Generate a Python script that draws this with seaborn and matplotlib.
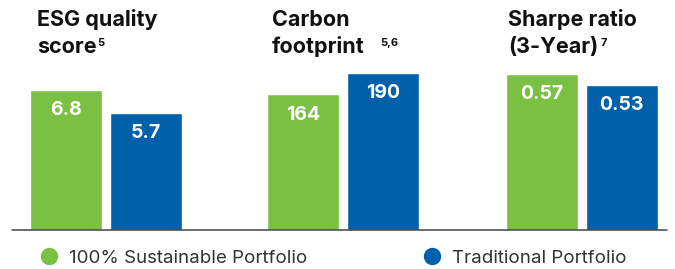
import matplotlib
matplotlib.use("Agg")
import matplotlib.pyplot as plt
from matplotlib.lines import Line2D
import pandas as pd
import seaborn as sns

# データ
metrics = ["ESG quality\nscore", "Carbon\nfootprint", "Sharpe ratio\n(3-Year)"]
footnotes = ["5", "5,6", "7"]
portfolios = ["100% Sustainable Portfolio", "Traditional Portfolio"]
sustainable = [6.8, 164, 0.57]
traditional = [5.7, 190, 0.53]
label_fmts = ["{:.1f}", "{:.0f}", "{:.2f}"]

df = pd.DataFrame({
    "metric": metrics * 2,
    "portfolio": [portfolios[0]] * 3 + [portfolios[1]] * 3,
    "value": sustainable + traditional,
})

green = "#7ac143"
blue = "#0060a9"
palette = {portfolios[0]: green, portfolios[1]: blue}

sns.set_style("white")
plt.rcParams["font.family"] = ["Inter", "DejaVu Sans"]

W, H = 675, 269
fig = plt.figure(figsize=(W / 100, H / 100), dpi=100, facecolor="white")

# レイアウト（ピクセル）
base_y = 229.5
top_y = 60
panel_left = [30, 267, 505.5]
panel_w = 152
ylims = [8.27, 205.8, 0.621]
title_x = [37, 272, 508]
sup_x = [97, 380, 601]

for i, metric in enumerate(metrics):
    ax = fig.add_axes([panel_left[i] / W, 1 - base_y / H, panel_w / W, (base_y - top_y) / H])
    sub = df[df["metric"] == metric]
    sns.barplot(data=sub, x="portfolio", y="value", hue="portfolio", order=portfolios,
                hue_order=portfolios, palette=palette, width=0.9, saturation=1,
                legend=False, ax=ax)
    ax.set_xlim(-0.45, 1.45)
    ax.set_ylim(0, ylims[i])
    ax.set_axis_off()

    for cont in ax.containers:
        for bar in cont:
            h = bar.get_height()
            if h != h or h == 0:
                continue
            ax.annotate(label_fmts[i].format(h),
                        (bar.get_x() + bar.get_width() / 2, h),
                        xytext=(0, -8), textcoords="offset points",
                        ha="center", va="top", color="white",
                        fontsize=14, fontweight="bold")

    # タイトル（1行ずつ）
    for j, line in enumerate(metric.split("\n")):
        fig.text(title_x[i] / W, 1 - (26 + 27 * j) / H, line, ha="left", va="baseline",
                 fontsize=15.5, fontweight="bold", color="#111111")
    fig.text(sup_x[i] / W, 1 - 46 / H, footnotes[i], ha="left", va="baseline",
             fontsize=8, fontweight="bold", color="#111111")

# ベースライン
fig.add_artist(Line2D([12 / W, 667 / W], [1 - base_y / H] * 2, color="#444444", lw=1.1))

# 凡例
leg_x = [40, 423]
for px, name, col in zip(leg_x, portfolios, [green, blue]):
    handle = Line2D([], [], marker="o", linestyle="", color=col, markersize=11.5)
    leg = fig.legend([handle], [name], loc="center left",
                     bbox_to_anchor=(px / W, 1 - 258 / H), frameon=False,
                     borderpad=0, borderaxespad=0, handlelength=0.95,
                     handletextpad=0.6, prop={"size": 13.5})
    for t in leg.get_texts():
        t.set_color("#333333")

fig.savefig("out.png", dpi=100, facecolor="white")
